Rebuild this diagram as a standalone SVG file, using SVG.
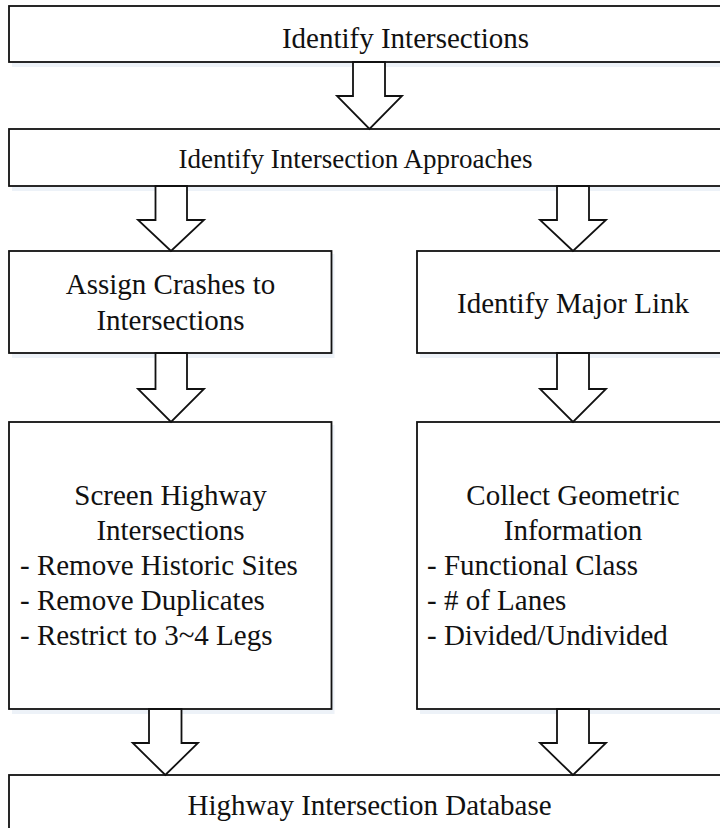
<svg xmlns="http://www.w3.org/2000/svg" width="720" height="828" viewBox="0 0 720 828">
<style>
.box{fill:#ffffff;stroke:#111111;stroke-width:1.8}
.sh{fill:#edf2f8;stroke:none}
.arr{fill:#ffffff;stroke:#111111;stroke-width:1.8;stroke-linejoin:miter}
text{font-family:"Liberation Serif","Times New Roman",serif;font-size:29px;fill:#111111}
.c{text-anchor:middle}
</style>
<rect width="720" height="828" fill="#ffffff"/>
<g id="n1">
<rect class="sh" x="12" y="9" width="800" height="58"/>
<rect class="box" x="9" y="6" width="800" height="56"/>
<text class="c" x="405.5" y="48">Identify Intersections</text>
</g>
<g id="n2">
<rect class="sh" x="12" y="132" width="800" height="59"/>
<rect class="box" x="9" y="129" width="800" height="57"/>
<text class="c" x="355.5" y="168" style="font-size:27px">Identify Intersection Approaches</text>
</g>
<g id="n3">
<rect class="sh" x="12" y="254" width="322.5" height="104"/>
<rect class="box" x="9" y="251" width="322.5" height="102"/>
<text class="c" x="170.5" y="294">Assign Crashes to</text>
<text class="c" x="170.5" y="330">Intersections</text>
</g>
<g id="n4">
<rect class="sh" x="420" y="254" width="320" height="104"/>
<rect class="box" x="417" y="251" width="320" height="102"/>
<text class="c" x="573" y="313">Identify Major Link</text>
</g>
<g id="n5">
<rect class="sh" x="12" y="425" width="322.5" height="289"/>
<rect class="box" x="9" y="422" width="322.5" height="287"/>
<text class="c" x="170.5" y="505">Screen Highway</text>
<text class="c" x="170.5" y="540">Intersections</text>
<text x="20" y="575">- Remove Historic Sites</text>
<text x="20" y="610">- Remove Duplicates</text>
<text x="20" y="645">- Restrict to 3~4 Legs</text>
</g>
<g id="n6">
<rect class="sh" x="420" y="425" width="320" height="289"/>
<rect class="box" x="417" y="422" width="320" height="287"/>
<text class="c" x="573" y="505">Collect Geometric</text>
<text class="c" x="573" y="540">Information</text>
<text x="427" y="575">- Functional Class</text>
<text x="427" y="610">- # of Lanes</text>
<text x="427" y="645">- Divided/Undivided</text>
</g>
<g id="n7">
<rect class="sh" x="12" y="778" width="800" height="60"/>
<rect class="box" x="9" y="775" width="800" height="60"/>
<text class="c" x="369.6" y="815">Highway Intersection Database</text>
</g>
<g id="connectors">
<polygon class="arr" points="353,62 385,62 385,96 402,96 369.5,129 337,96 353,96"/>
<polygon class="arr" points="155.5,186 187,186 187,220 204,220 171,251 138,220 155.5,220"/>
<polygon class="arr" points="557,186 589,186 589,220 606,220 573,251 540,220 557,220"/>
<polygon class="arr" points="155.5,353 187,353 187,389 204,389 171,422 138,389 155.5,389"/>
<polygon class="arr" points="557,353 589,353 589,389 606,389 573,422 540,389 557,389"/>
<polygon class="arr" points="149,709 181.5,709 181.5,743 198,743 165.3,775 132.7,743 149,743"/>
<polygon class="arr" points="557,709 589,709 589,743 606,743 573,775 540,743 557,743"/>
</g>
</svg>
